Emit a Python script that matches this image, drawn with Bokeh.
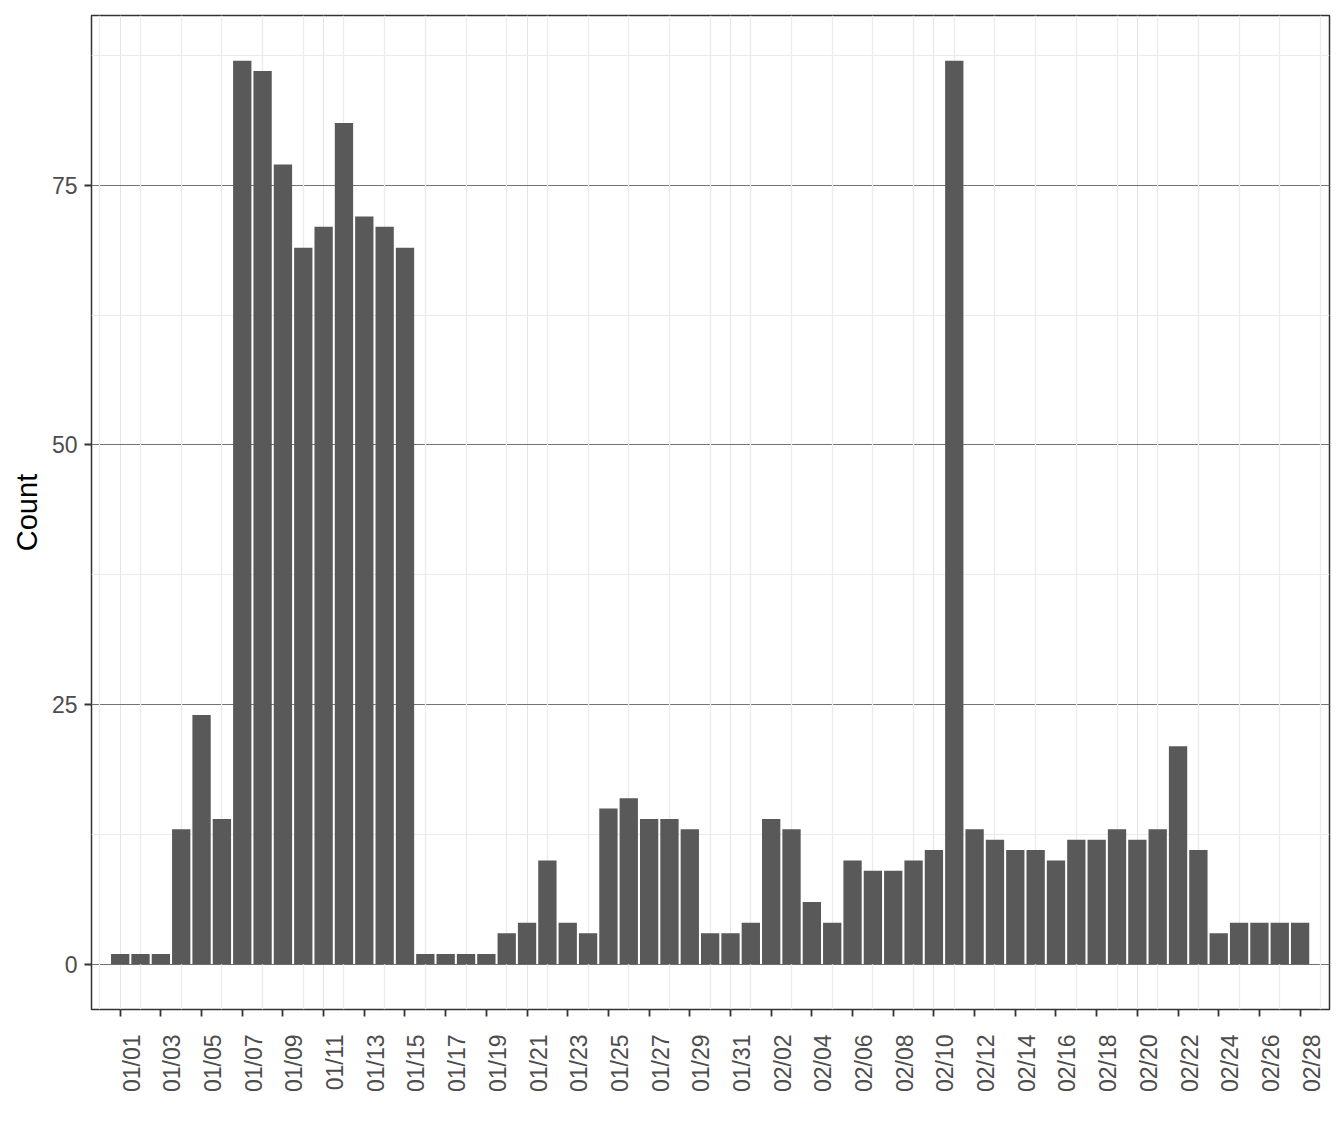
import math
from bokeh.plotting import figure
from bokeh.models import ColumnDataSource, FixedTicker, LinearAxis, Range1d, Grid
from bokeh.embed import file_html
from bokeh.resources import INLINE

# conteo diario del 01/01 al 02/28
counts = [1, 1, 1, 13, 24, 14, 87, 86, 77, 69, 71, 81, 72, 71, 69,
          1, 1, 1, 1, 3, 4, 10, 4, 3, 15, 16, 14, 14, 13, 3, 3,
          4, 14, 13, 6, 4, 10, 9, 9, 10, 11, 87, 13, 12, 11, 11, 10,
          12, 12, 13, 12, 13, 21, 11, 3, 4, 4, 4, 4]
days = list(range(len(counts)))

tick_labels = ["01/01", "01/03", "01/05", "01/07", "01/09", "01/11", "01/13", "01/15",
               "01/17", "01/19", "01/21", "01/23", "01/25", "01/27", "01/29", "01/31",
               "02/02", "02/04", "02/06", "02/08", "02/10", "02/12", "02/14", "02/16",
               "02/18", "02/20", "02/22", "02/24", "02/26", "02/28"]
tick_pos = list(range(0, len(counts), 2))

y_major = [0, 25, 50, 75]
y_minor = [12.5, 37.5, 62.5, 87.5]

FONT = "Liberation Sans"
shift = 0.565  # desplazamiento de las etiquetas respecto a las marcas

x0, x1 = -1.41, 59.445
p = figure(frame_width=1238, frame_height=994, min_border_left=91, min_border_top=15,
           min_border_right=14, min_border_bottom=10,
           x_range=Range1d(x0, x1), y_range=Range1d(-4.35, 91.35),
           x_axis_location=None, output_backend="svg", toolbar_location=None, tools="")
p.extra_x_ranges = {"lab": Range1d(x0 - shift, x1 - shift)}
p.background_fill_color = "white"
p.border_fill_color = "white"
p.outline_line_color = "#333333"
p.outline_line_width = 1.5

# rejillas
p.ygrid.ticker = FixedTicker(ticks=y_major, minor_ticks=y_minor)
p.ygrid.grid_line_color = "#737373"
p.ygrid.grid_line_width = 1
p.ygrid.minor_grid_line_color = "#EBEBEB"
p.ygrid.minor_grid_line_width = 1.2
p.add_layout(Grid(dimension=0, ticker=FixedTicker(ticks=list(range(-1, 61, 2))),
                  grid_line_color="#EBEBEB", grid_line_width=1.3))

src = ColumnDataSource(dict(day=days, count=counts))
p.vbar(x="day", top="count", width=0.9, source=src, fill_color="#595959", line_color=None)

# eje y
ya = p.yaxis[0]
ya.ticker = FixedTicker(ticks=y_major)
ya.axis_label = "Count"
ya.axis_label_text_font = FONT
ya.axis_label_text_font_size = "29px"
ya.axis_label_text_font_style = "normal"
ya.axis_label_text_color = "black"
ya.axis_label_standoff = 6
ya.major_label_text_font = FONT
ya.major_label_text_font_size = "23px"
ya.major_label_text_color = "#4D4D4D"
ya.major_label_standoff = 7
ya.major_tick_out = 7
ya.major_tick_in = 0
ya.major_tick_line_color = "#333333"
ya.major_tick_line_width = 1.8
ya.minor_tick_line_color = None
ya.axis_line_color = None

# eje x: marcas como minor ticks, etiquetas desplazadas
xa = LinearAxis(x_range_name="lab",
                ticker=FixedTicker(ticks=tick_pos, minor_ticks=[t - shift for t in tick_pos]),
                major_label_overrides={t: s for t, s in zip(tick_pos, tick_labels)},
                major_label_orientation=math.pi / 2,
                major_label_text_font=FONT, major_label_text_font_size="23px",
                major_label_text_color="#4D4D4D", major_label_standoff=18,
                major_tick_out=0, major_tick_in=0, major_tick_line_color=None,
                minor_tick_out=7, minor_tick_in=0, minor_tick_line_color="#333333",
                minor_tick_line_width=1.8, axis_line_color=None)
p.add_layout(xa, "below")

open("out.html", "w").write(file_html(p, INLINE))
